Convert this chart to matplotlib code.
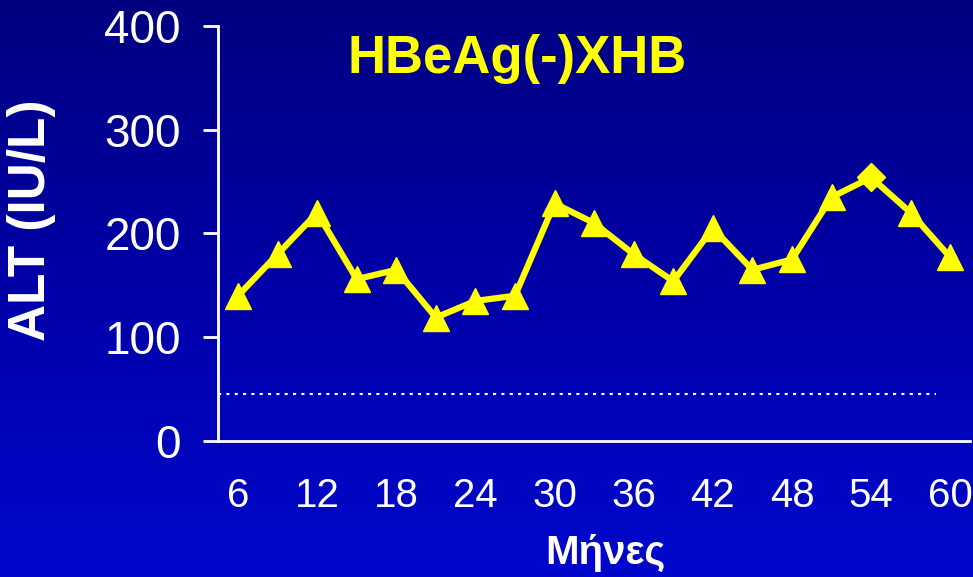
import matplotlib.pyplot as plt
import numpy as np
from matplotlib.colors import LinearSegmentedColormap

# ALT values every 3 months
months = [6, 9, 12, 15, 18, 21, 24, 27, 30, 33, 36, 39, 42, 45, 48, 51, 54, 57, 60]
alt = [140, 180, 220, 156, 165, 119, 135, 140, 229, 210,
       180, 154, 205, 165, 175, 235, 254, 220, 177]
tick_months = [6, 12, 18, 24, 30, 36, 42, 48, 54, 60]
yticks = [0, 100, 200, 300, 400]
uln = 45
uln_span = [4.5, 58.9]

plt.rcParams['font.family'] = ['Liberation Sans', 'DejaVu Sans']

fig = plt.figure(figsize=(9.73, 5.77), dpi=100)

# background gradient
bg = fig.add_axes([0, 0, 1, 1], zorder=-1)
cmap = LinearSegmentedColormap.from_list("bg", ["#0008cc", "#0000a8", "#000080"])
grad = np.linspace(0, 1, 256).reshape(-1, 1)
bg.imshow(grad, aspect='auto', extent=[0, 1, 0, 1], cmap=cmap, origin='lower')
bg.axis('off')

ax = fig.add_axes([0.224, 0.2357, 0.773, 0.7193])
ax.set_facecolor('none')

ax.plot(uln_span, [uln, uln], color='white', lw=1.5, linestyle=(0, (1.5, 2.5)))
ax.plot(months, alt, color='#ffff00', lw=4.5, zorder=3)
for m, v in zip(months, alt):
    mk = 'D' if m == 54 else '^'
    ms = 14 if m == 54 else 19
    ax.plot(m, v, marker=mk, ms=ms, color='#ffff00', zorder=4)

ax.set_xlim(4.48, 61.5)
ax.set_ylim(0, 400)
ax.set_xticks(tick_months)
ax.set_xticklabels([str(m) for m in tick_months])
ax.set_yticks(yticks)

for s in ['top', 'right']:
    ax.spines[s].set_visible(False)
for s in ['left', 'bottom']:
    ax.spines[s].set_color('white')
    ax.spines[s].set_linewidth(2)

ax.tick_params(axis='y', colors='white', labelsize=33, length=10.8, width=2, pad=16)
ax.tick_params(axis='x', colors='white', labelsize=29, length=0, pad=26)

fig.text(0.531, 1 - 73 / 577, "HBeAg(-)XHB", color='#ffff00', fontsize=38,
         fontweight='bold', ha='center', va='baseline')
fig.text(32 / 973, 1 - 220 / 577, "ALT (IU/L)", color='white', fontsize=37,
         fontweight='bold', rotation=90, ha='center', va='center')
fig.text(605 / 973, 1 - 564 / 577, "Μήνες", color='white', fontsize=29,
         fontweight='bold', ha='center', va='baseline')

fig.savefig('out.png', dpi=100)
